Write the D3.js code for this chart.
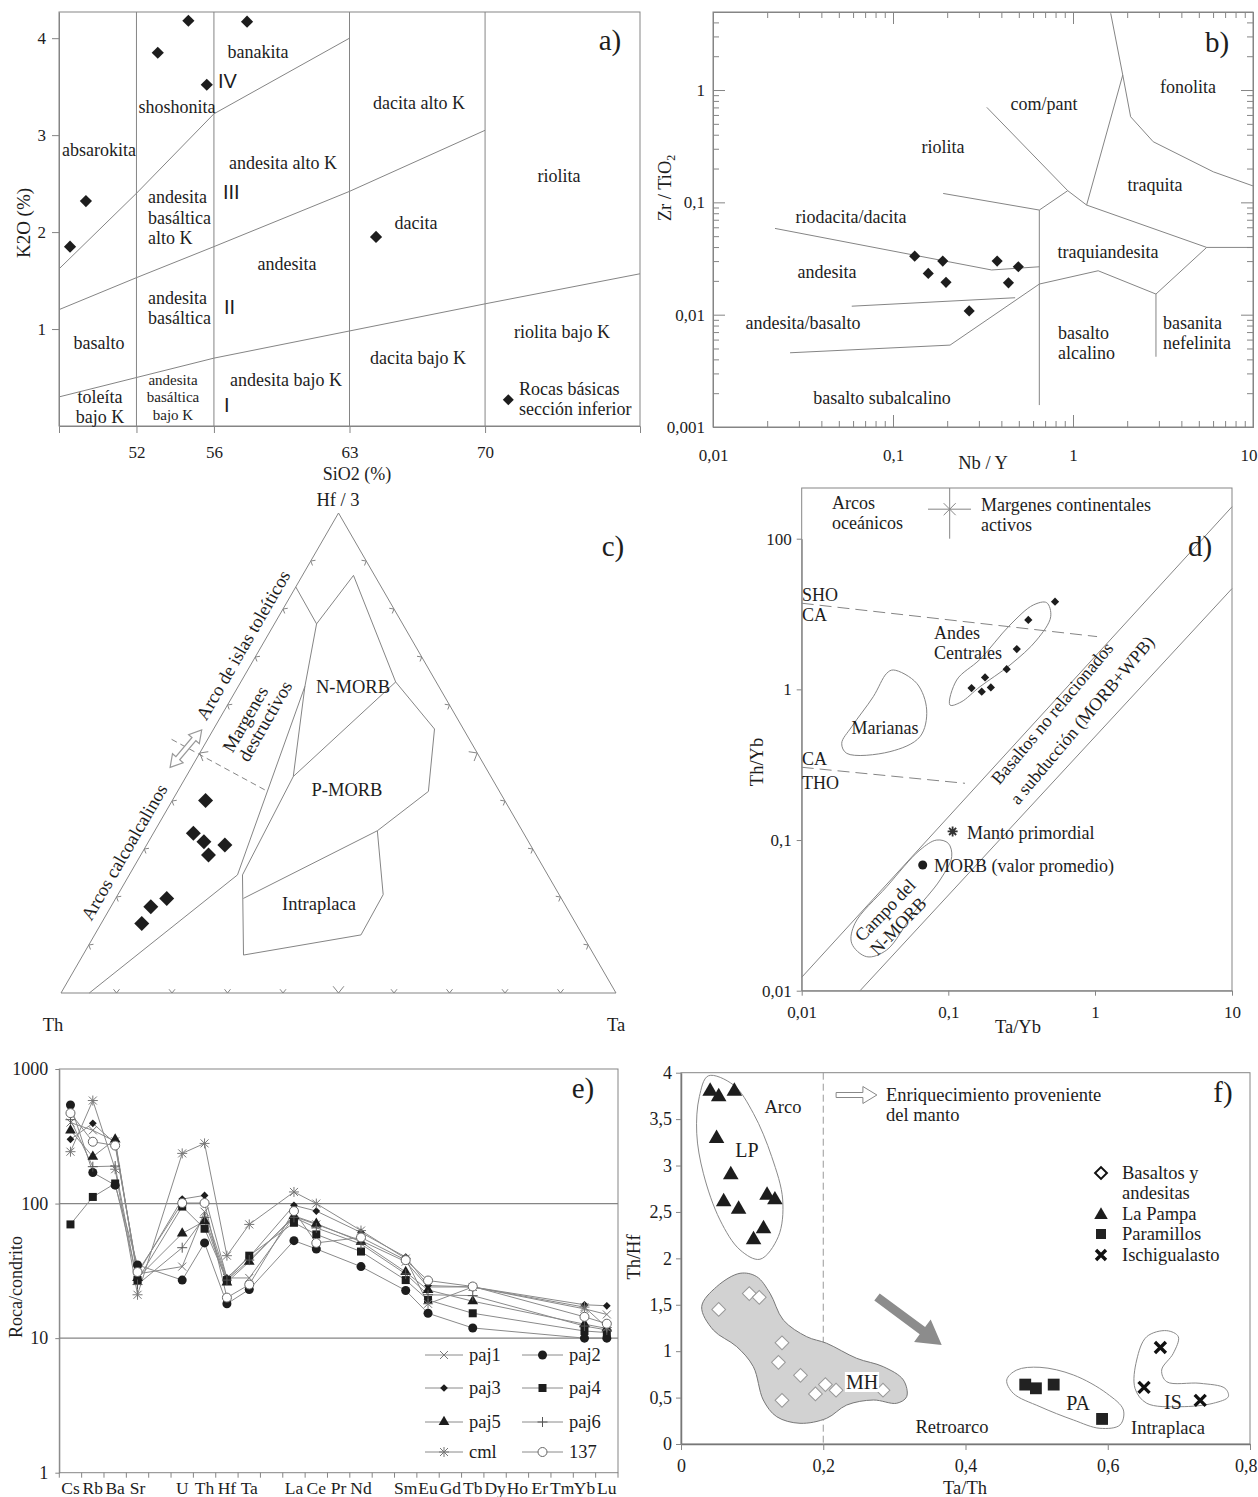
<!DOCTYPE html>
<html>
<head>
<meta charset="utf-8">
<script src="https://cdn.jsdelivr.net/npm/d3@7"></script>
<style>
  body { margin: 0; background: #fff; }
  svg { display: block; font-family: "Liberation Serif", "Times New Roman", serif; }
</style>
</head>
<body>
<svg id="fig" width="1258" height="1497"></svg>
<script>
// ---------------- data ----------------
// a) K2O vs SiO2
const aSiO2 = [48.57, 49.39, 53.10, 54.68, 55.63, 57.71, 64.37];
const aK2O = [1.85, 2.32, 3.85, 4.18, 3.52, 4.17, 1.95];
const aDividers = [52, 56, 63, 70];
const aTicksY = [1, 2, 3, 4];
const aShoshonite = [[48, 1.62], [52, 2.4], [56, 3.22], [63, 4.0]];
const aHighK = [[48, 1.2], [52, 1.53], [56, 1.85], [63, 2.42], [70, 3.05]];
const aLowK = [[48, 0.3], [52, 0.5], [56, 0.7], [63, 0.98], [70, 1.26], [78, 1.57]];

// b) Zr/TiO2 vs Nb/Y
const bNbY = [0.132, 0.157, 0.189, 0.197, 0.379, 0.497, 0.438, 0.265];
const bZrTi = [0.0332, 0.0233, 0.030, 0.0194, 0.030, 0.0267, 0.0192, 0.0108];
const bTicksX = [0.01, 0.1, 1, 10];
const bTickLabelsX = ["0,01", "0,1", "1", "10"];
const bTicksY = [0.001, 0.01, 0.1, 1];
const bTickLabelsY = ["0,001", "0,01", "0,1", "1"];
const bFields = [
  [[0.0221, 0.0586], [0.353, 0.0250], [0.650, 0.0267]],
  [[0.059, 0.0119], [0.477, 0.01415]],
  [[0.0268, 0.00458], [0.2075, 0.00536], [0.650, 0.01873]],
  [[0.650, 0.0854], [0.650, 0.001567]],
  [[0.190, 0.120], [0.650, 0.0854], [0.935, 0.127], [1.19, 0.0946]],
  [[0.332, 0.701], [0.935, 0.127]],
  [[1.19, 0.0946], [1.89, 1.36]],
  [[1.62, 4.82], [1.89, 1.36], [2.09, 0.578], [2.79, 0.3465], [6.02, 0.187], [10, 0.14]],
  [[1.19, 0.0946], [5.53, 0.0397], [10, 0.0397]],
  [[5.53, 0.0397], [2.89, 0.01526], [2.89, 0.00422]],
  [[0.650, 0.01873], [1.38, 0.0246], [2.89, 0.01526]]
];

// c) Th - Hf/3 - Ta (percent)
const cTh = [53.9, 59.5, 58.5, 55.0, 59.1, 71.1, 74.9, 78.2];
const cHf = [40.1, 33.3, 31.5, 30.8, 28.8, 19.7, 18.0, 14.5];
const cTa = [6.0, 7.2, 10.0, 14.1, 12.2, 9.2, 7.2, 7.3];
const cFields = [
  [[94.9, 0, 5.1], [55.9, 24.6, 19.5], [24.1, 63.9, 12.0], [15.5, 76.9, 7.6], [15.4, 84.6, 0]],
  [[55.0, 24.6, 20.4], [35.6, 45.1, 19.3], [24.1, 63.9, 12.0]],
  [[15.5, 76.9, 7.6], [3.8, 87.0, 9.2], [7.3, 64.8, 27.9], [5.2, 55.0, 39.8], [12.8, 42.0, 45.2], [26.1, 33.8, 40.1]],
  [[35.6, 45.1, 19.3], [7.3, 64.8, 27.9]],
  [[57.3, 19.7, 23.0], [26.1, 33.8, 40.1], [31.7, 20.5, 47.8], [39.9, 12.1, 48.0], [63.1, 7.9, 28.9], [55.0, 24.6, 20.4]]
];
const cDashed = [[53.65, 52.85, -6.5], [42.1, 42.3, 15.6]];
const cArrow = [[56.85, 47.0, -3.85], [47.25, 54.8, -2.05]];

// d) Th/Yb vs Ta/Yb
const dTaYb = [0.534, 0.351, 0.293, 0.250, 0.178, 0.144, 0.169, 0.195];
const dThYb = [3.82, 2.89, 1.85, 1.36, 1.20, 1.02, 0.965, 1.03];
const dTicks = [0.01, 0.1, 1, 10];
const dTickLabelsX = ["0,01", "0,1", "1", "10"];
const dTickLabelsY = ["0,01", "0,1", "1", "100"];
const dPrimordial = [0.107, 0.114];
const dMORB = [0.0669, 0.0683];
const dSHO = [[0.01, 3.73], [1.035, 2.24]];
const dTHO = [[0.01, 0.304], [0.13, 0.238]];
const dArrayUpper = [[0.01, 0.01227], [10, 16.3]];
const dArrayLower = [[0.025, 0.01], [10, 4.665]];
const dAndes = [[0.1027, 0.787], [0.1141, 1.154], [0.1645, 1.583], [0.2634, 2.674], [0.3796, 3.63], [0.4686, 3.76],
  [0.4989, 3.036], [0.4005, 2.126], [0.2634, 1.451], [0.1645, 1.042], [0.1221, 0.824]];
const dMarianas = [[0.0422, 1.345], [0.0609, 1.097], [0.0712, 0.730], [0.0641, 0.485], [0.040, 0.386], [0.0203, 0.376],
  [0.01875, 0.4385], [0.02193, 0.565], [0.03078, 0.894], [0.038, 1.278]];
const dNMORB = [[0.0834, 0.100], [0.100, 0.0951], [0.1055, 0.0775], [0.0878, 0.0543], [0.0577, 0.0327], [0.038, 0.01863],
  [0.02777, 0.01681], [0.02193, 0.02063], [0.0231, 0.02802], [0.038, 0.049], [0.0641, 0.0859]];

// e) spider diagram (roca/condrito)
const eSlots = ["Cs", "Rb", "Ba", "Sr", "", "U", "Th", "Hf", "Ta", "", "La", "Ce", "Pr", "Nd", "",
  "Sm", "Eu", "Gd", "Tb", "Dy", "Ho", "Er", "Tm", "Yb", "Lu"];
const eElements = ["Cs", "Rb", "Ba", "Sr", "U", "Th", "Hf", "Ta", "La", "Ce", "Nd", "Sm", "Eu", "Tb", "Yb", "Lu"];
const eTicksY = [1, 10, 100, 1000];
const paj1 = [400, 350, 290, 30, 34, 87, 28, 28, 80, 70, 53, 37, 24, 24, 16.5, 15];
const paj2 = [540, 170, 137, 35, 27, 51, 18, 23, 53, 46, 34, 22.6, 15.3, 11.9, 10, 10];
const paj3 = [300, 395, 280, 30, 108, 115, 28, 40, 97, 88, 61, 40, 24.6, 24, 17.7, 17.4];
const paj4 = [70, 112, 141, 27, 95, 65, 27, 41, 72, 59, 44, 27, 19.2, 15.3, 11.3, 11];
const paj5 = [350, 223, 300, 28, 60, 74, 26, 37, 81, 71, 52, 31, 22.8, 18.8, 12.7, 11.8];
const paj6 = [420, 188, 190, 25, 47, 79, 27, 38, 79, 66, 50, 30, 21, 20.7, 12.3, 11.5];
const cml = [243, 583, 180, 21, 236, 280, 41, 70, 122, 100, 63, 39, 18, 24, 17, 12];
const s137 = [470, 288, 270, 31, 101, 101, 20, 25, 88, 51, 56, 38, 26.8, 24.2, 14.4, 12.8];
const eSeriesNames = ["paj1", "paj2", "paj3", "paj4", "paj5", "paj6", "cml", "137"];

// f) Th/Hf vs Ta/Th
const fLP_TaTh = [0.041, 0.053, 0.075, 0.050, 0.070, 0.060, 0.081, 0.121, 0.132, 0.116, 0.102];
const fLP_ThHf = [3.80, 3.74, 3.80, 3.29, 2.90, 2.61, 2.53, 2.68, 2.63, 2.32, 2.20];
const fMH_TaTh = [0.053, 0.096, 0.110, 0.142, 0.137, 0.168, 0.142, 0.189, 0.203, 0.218, 0.284];
const fMH_ThHf = [1.45, 1.62, 1.58, 1.09, 0.88, 0.74, 0.47, 0.54, 0.64, 0.58, 0.58];
const fPA_TaTh = [0.484, 0.499, 0.524, 0.592];
const fPA_ThHf = [0.64, 0.60, 0.64, 0.27];
const fIS_TaTh = [0.674, 0.651, 0.730];
const fIS_ThHf = [1.04, 0.61, 0.47];
const fTicksX = [0, 0.2, 0.4, 0.6, 0.8];
const fTicksY = [0, 0.5, 1, 1.5, 2, 2.5, 3, 3.5, 4];
const fLPfield = [[0.0384, 3.966], [0.0736, 3.869], [0.1017, 3.563], [0.1275, 3.096], [0.143, 2.629], [0.1368, 2.234],
  [0.111, 1.990], [0.083, 2.091], [0.0548, 2.414], [0.0314, 2.917], [0.0221, 3.348], [0.0258, 3.742]];
const fMHfield = [[0.0291, 1.480], [0.0502, 1.695], [0.083, 1.839], [0.1064, 1.803], [0.1251, 1.624], [0.1438, 1.336],
  [0.1767, 1.156], [0.2048, 1.085], [0.247, 0.923], [0.2844, 0.833], [0.3126, 0.690], [0.3173, 0.510], [0.3033, 0.439],
  [0.2704, 0.474], [0.233, 0.420], [0.2048, 0.277], [0.1673, 0.223], [0.1346, 0.294], [0.1157, 0.474], [0.1017, 0.833],
  [0.0783, 1.049], [0.0454, 1.228]];
const fPAfield = [[0.458, 0.690], [0.472, 0.797], [0.5047, 0.826], [0.5516, 0.744], [0.5985, 0.546], [0.622, 0.366],
  [0.6172, 0.205], [0.589, 0.169], [0.5516, 0.259], [0.5047, 0.402], [0.4672, 0.546]];
const fISfield = [[0.6548, 1.156], [0.6829, 1.221], [0.6992, 1.156], [0.6922, 0.977], [0.6758, 0.797], [0.6829, 0.671],
  [0.7297, 0.654], [0.7649, 0.600], [0.7695, 0.510], [0.7484, 0.439], [0.7016, 0.402], [0.6548, 0.439], [0.6383, 0.600],
  [0.6407, 0.905]];
const fTrendArrow = [[0.2756, 1.584], [0.3665, 1.067]];
const fEnrichArrow = [[0.218, 3.76], [0.2754, 3.76]];

// ---------------- helpers ----------------
const GRAY = "#858585";
const INK = "#1d1d1d";
const SANS = '"Liberation Sans", Arial, sans-serif';
const svg = d3.select("#fig");
svg.append("rect").attr("width", 1258).attr("height", 1497).attr("fill", "#fff");

function txt(g, s, x, y, o = {}) {
  const t = g.append("text")
    .attr("x", x).attr("y", y).attr("dy", "0.35em")
    .attr("text-anchor", o.anchor || "middle")
    .attr("font-size", o.size || 16)
    .attr("fill", INK)
    .text(s);
  if (o.font) t.attr("font-family", o.font);
  if (o.rot) t.attr("transform", "rotate(" + o.rot + "," + x + "," + y + ")");
  return t;
}
function labels(g, list, size) {
  list.forEach(l => txt(g, l[0], l[1], l[2], Object.assign({ size: size }, l[3] || {})));
}
function diamond(g, x, y, area, fill, stroke) {
  return g.append("path")
    .attr("d", d3.symbol(d3.symbolSquare, area)())
    .attr("transform", "translate(" + x + "," + y + ") rotate(45)")
    .attr("fill", fill || INK)
    .attr("stroke", stroke || "none");
}
function styleAxis(sel, fs) {
  sel.attr("font-family", null).attr("font-size", fs);
  sel.selectAll("path, line").attr("stroke", GRAY);
  sel.selectAll("text").attr("fill", INK);
}
function frame(g, x0, y0, x1, y1) {
  g.append("rect").attr("x", x0).attr("y", y0).attr("width", x1 - x0).attr("height", y1 - y0)
    .attr("fill", "none").attr("stroke", GRAY);
}
function arrowShape(p0, p1, shaft, headLen, headHalf, both) {
  const dx = p1[0] - p0[0], dy = p1[1] - p0[1], L = Math.hypot(dx, dy);
  const u = [dx / L, dy / L], n = [-u[1], u[0]];
  const at = (p, a, b) => [p[0] + u[0] * a + n[0] * b, p[1] + u[1] * a + n[1] * b];
  const pts = [];
  if (both) pts.push(p0, at(p0, headLen, headHalf), at(p0, headLen, shaft));
  else pts.push(at(p0, 0, shaft));
  pts.push(at(p1, -headLen, shaft), at(p1, -headLen, headHalf), p1, at(p1, -headLen, -headHalf), at(p1, -headLen, -shaft));
  if (both) pts.push(at(p0, headLen, -shaft), at(p0, headLen, -headHalf));
  else pts.push(at(p0, 0, -shaft));
  return "M" + pts.map(p => p[0].toFixed(1) + "," + p[1].toFixed(1)).join("L") + "Z";
}

// ---------------- a) ----------------
const ga = svg.append("g");
const ax = d3.scaleLinear().domain([48, 78]).range([59, 640]);
const ay = d3.scaleLinear().domain([0, 4.27]).range([426, 12]);
frame(ga, ax(48), ay(4.27), ax(78), ay(0));
aDividers.forEach(v => ga.append("line")
  .attr("x1", ax(v)).attr("x2", ax(v)).attr("y1", ay(0)).attr("y2", ay(4.27)).attr("stroke", GRAY));
const aLine = d3.line().x(d => ax(d[0])).y(d => ay(d[1]));
[aShoshonite, aHighK, aLowK].forEach(b => ga.append("path").attr("d", aLine(b))
  .attr("fill", "none").attr("stroke", GRAY));
ga.append("g").attr("transform", "translate(" + ax(48) + ",0)")
  .call(d3.axisLeft(ay).tickValues(aTicksY).tickFormat(d3.format("d")).tickSize(7).tickSizeOuter(0).tickPadding(6))
  .call(styleAxis, 17);
ga.append("g").attr("transform", "translate(0," + ay(0) + ")")
  .call(d3.axisBottom(ax).tickValues(aDividers).tickSize(7).tickSizeOuter(7).tickPadding(13))
  .call(styleAxis, 17);
aSiO2.forEach((v, i) => diamond(ga, ax(v), ay(aK2O[i]), 74));
diamond(ga, ax(71.2), ay(0.27), 60);
labels(ga, [
  ["banakita", 258, 52], ["shoshonita", 177, 107], ["absarokita", 99, 150],
  ["andesita alto K", 283, 163],
  ["andesita", 148, 197, { anchor: "start" }], ["basáltica", 148, 218, { anchor: "start" }], ["alto K", 148, 238, { anchor: "start" }],
  ["andesita", 287, 264],
  ["andesita", 148, 298, { anchor: "start" }], ["basáltica", 148, 318, { anchor: "start" }],
  ["basalto", 99, 343], ["toleíta", 100, 397], ["bajo K", 100, 417],
  ["andesita bajo K", 230, 380, { anchor: "start" }],
  ["dacita alto K", 419, 103], ["riolita", 559, 176], ["dacita", 416, 223],
  ["dacita bajo K", 418, 358], ["riolita bajo K", 562, 332],
  ["Rocas básicas", 519, 389, { anchor: "start" }], ["sección inferior", 519, 409, { anchor: "start" }]
], 18);
labels(ga, [["andesita", 173, 380], ["basáltica", 173, 397], ["bajo K", 173, 415]], 15);
[["IV", 218, 81], ["III", 223, 192], ["II", 224, 307], ["I", 224, 405]]
  .forEach(l => txt(ga, l[0], l[1], l[2], { anchor: "start", size: 20, font: SANS }));
txt(ga, "a)", 610, 40, { size: 29 });
txt(ga, "K2O (%)", 23, 223, { size: 19, rot: -90 });
txt(ga, "SiO2 (%)", 357, 474, { size: 18 });

// ---------------- b) ----------------
const gb = svg.append("g");
const bx = d3.scaleLog().domain([0.01, 10]).range([713, 1253]);
const by = d3.scaleLog().domain([0.001, 4.95]).range([427, 12]);
frame(gb, 713, 12, 1253, 427);
const bMinorX = bx.ticks().filter(v => !bTicksX.some(t => Math.abs(t - v) < 1e-12));
const bMinorY = by.ticks().filter(v => !bTicksY.some(t => Math.abs(t - v) < 1e-12));
[[d3.axisBottom, 427], [d3.axisTop, 12]].forEach(([fn, y], k) => {
  gb.append("g").attr("transform", "translate(0," + y + ")")
    .call(fn(bx).tickValues(bMinorX).tickSize(-6).tickSizeOuter(0).tickFormat("")).call(styleAxis, 17);
  gb.append("g").attr("transform", "translate(0," + y + ")")
    .call(fn(bx).tickValues(bTicksX).tickSize(-12).tickSizeOuter(0).tickPadding(22)
      .tickFormat(k === 0 ? (d, i) => bTickLabelsX[i] : "")).call(styleAxis, 17);
});
gb.selectAll("text").filter(function () { return this.textContent === "10"; })
  .attr("text-anchor", "end").attr("x", 4);
[[d3.axisLeft, 713], [d3.axisRight, 1253]].forEach(([fn, x], k) => {
  gb.append("g").attr("transform", "translate(" + x + ",0)")
    .call(fn(by).tickValues(bMinorY).tickSize(-6).tickSizeOuter(0).tickFormat("")).call(styleAxis, 17);
  gb.append("g").attr("transform", "translate(" + x + ",0)")
    .call(fn(by).tickValues(bTicksY).tickSize(-12).tickSizeOuter(0).tickPadding(8)
      .tickFormat(k === 0 ? (d, i) => bTickLabelsY[i] : "")).call(styleAxis, 17);
});
const bLine = d3.line().x(d => bx(d[0])).y(d => by(d[1]));
bFields.forEach(f => gb.append("path").attr("d", bLine(f)).attr("fill", "none").attr("stroke", GRAY));
bNbY.forEach((v, i) => diamond(gb, bx(v), by(bZrTi[i]), 62));
labels(gb, [
  ["riolita", 943, 147], ["com/pant", 1044, 104], ["fonolita", 1188, 87], ["traquita", 1155, 185],
  ["riodacita/dacita", 851, 217], ["andesita", 827, 272], ["andesita/basalto", 803, 323],
  ["traquiandesita", 1108, 252],
  ["basalto", 1058, 333, { anchor: "start" }], ["alcalino", 1058, 353, { anchor: "start" }],
  ["basanita", 1163, 323, { anchor: "start" }], ["nefelinita", 1163, 343, { anchor: "start" }],
  ["basalto subalcalino", 882, 398]
], 18);
txt(gb, "b)", 1217, 42, { size: 29 });
txt(gb, "Nb / Y", 983, 463, { size: 18.5 });
const zt = txt(gb, "Zr / TiO", 665, 188, { size: 18.5, rot: -90 });
zt.append("tspan").attr("font-size", 12).attr("dy", "0.3em").text("2");

// ---------------- c) ----------------
const gc = svg.append("g");
const cxs = d3.scaleLinear().domain([0, 1]).range([61, 616]);
const cys = d3.scaleLinear().domain([0, 1]).range([993, 513]);
const tern = d => {
  const s = d[0] + d[1] + d[2], hf = d[1] / s, ta = d[2] / s;
  return [cxs(ta + hf / 2), cys(hf)];
};
const triV = [tern([100, 0, 0]), tern([0, 100, 0]), tern([0, 0, 100])];
gc.append("path").attr("d", "M" + triV.join("L") + "Z").attr("fill", "none").attr("stroke", GRAY);
const cen = [d3.mean(triV, p => p[0]), d3.mean(triV, p => p[1])];
[[0, 1], [1, 2], [2, 0]].forEach(([a, b]) => {
  const A = triV[a], B = triV[b];
  const L = Math.hypot(B[0] - A[0], B[1] - A[1]);
  const u = [(B[0] - A[0]) / L, (B[1] - A[1]) / L];
  d3.range(1, 10).forEach(k => {
    const P = [A[0] + (B[0] - A[0]) * k / 10, A[1] + (B[1] - A[1]) * k / 10];
    let n = [-u[1], u[0]];
    if (n[0] * (cen[0] - P[0]) + n[1] * (cen[1] - P[1]) < 0) n = [-n[0], -n[1]];
    const s = k === 5 ? 9 : 5;
    const p1 = [P[0] + s * (0.75 * n[0] + 0.6 * u[0]), P[1] + s * (0.75 * n[1] + 0.6 * u[1])];
    const p2 = [P[0] + s * (0.75 * n[0] - 0.6 * u[0]), P[1] + s * (0.75 * n[1] - 0.6 * u[1])];
    gc.append("path").attr("d", "M" + p1 + "L" + P + "L" + p2).attr("fill", "none").attr("stroke", GRAY);
  });
});
const cLine = d3.line().x(d => tern(d)[0]).y(d => tern(d)[1]);
cFields.forEach(f => gc.append("path").attr("d", cLine(f)).attr("fill", "none").attr("stroke", GRAY));
gc.append("path").attr("d", cLine(cDashed)).attr("fill", "none").attr("stroke", GRAY).attr("stroke-dasharray", "6,4");
gc.append("path").attr("d", arrowShape(tern(cArrow[0]), tern(cArrow[1]), 2.5, 12, 7, true))
  .attr("fill", "#fff").attr("stroke", "#999").attr("stroke-width", 1.2);
cTh.forEach((v, i) => { const p = tern([v, cHf[i], cTa[i]]); diamond(gc, p[0], p[1], 112); });
labels(gc, [
  ["Hf / 3", 338, 500], ["Th", 53, 1025], ["Ta", 616, 1025],
  ["N-MORB", 353, 687], ["P-MORB", 347, 790], ["Intraplaca", 319, 904]
], 18.5);
labels(gc, [
  ["Arcos calcoalcalinos", 124, 852, { rot: -60 }], ["Arco de islas toleíticos", 243, 645, { rot: -60 }],
  ["Margenes", 245, 719, { rot: -60 }], ["destructivos", 265, 721, { rot: -60 }]
], 18.5);
txt(gc, "c)", 613, 546, { size: 29 });

// ---------------- d) ----------------
const gd = svg.append("g");
const dx = d3.scaleLog().domain([0.01, 0.1, 1, 10]).range([801.7, 948.3, 1095, 1232]);
const dy = d3.scaleLog().domain([0.01, 10]).range([990.7, 538.7]);
frame(gd, 801.7, 488, 1232, 990.7);
gd.append("g").attr("transform", "translate(801.7,0)")
  .call(d3.axisLeft(dy).tickValues(dTicks).tickSize(5).tickSizeOuter(0).tickPadding(5)
    .tickFormat((d, i) => dTickLabelsY[i])).call(styleAxis, 17);
gd.append("g").attr("transform", "translate(0,990.7)")
  .call(d3.axisBottom(dx).tickValues(dTicks).tickSize(5).tickSizeOuter(0).tickPadding(10)
    .tickFormat((d, i) => dTickLabelsX[i])).call(styleAxis, 17);
const dLine = d3.line().x(d => dx(d[0])).y(d => dy(d[1]));
const dLoop = d3.line().x(d => dx(d[0])).y(d => dy(d[1])).curve(d3.curveCatmullRomClosed.alpha(0.5));
[dArrayUpper, dArrayLower].forEach(l => gd.append("path").attr("d", dLine(l)).attr("fill", "none").attr("stroke", GRAY));
[dSHO, dTHO].forEach(l => gd.append("path").attr("d", dLine(l)).attr("fill", "none").attr("stroke", GRAY)
  .attr("stroke-dasharray", "12,6"));
[dAndes, dMarianas, dNMORB].forEach(l => gd.append("path").attr("d", dLoop(l)).attr("fill", "none").attr("stroke", GRAY));
// cross symbol (arcos oceanicos / margenes continentales)
const crossX = dx(0.1022), crossY = dy(15.7);
gd.append("line").attr("x1", crossX).attr("x2", crossX).attr("y1", 488).attr("y2", dy(10)).attr("stroke", GRAY);
gd.append("line").attr("x1", dx(0.0727)).attr("x2", dx(0.1428)).attr("y1", crossY).attr("y2", crossY).attr("stroke", GRAY);
gd.append("path").attr("d", "M" + (crossX - 6) + "," + (crossY - 6) + "L" + (crossX + 6) + "," + (crossY + 6) +
  "M" + (crossX - 6) + "," + (crossY + 6) + "L" + (crossX + 6) + "," + (crossY - 6)).attr("stroke", GRAY);
dTaYb.forEach((v, i) => diamond(gd, dx(v), dy(dThYb[i]), 34));
{
  const px = dx(dPrimordial[0]), py = dy(dPrimordial[1]);
  const star = d3.range(4).map(k => {
    const a = k * Math.PI / 4;
    return "M" + (px - 5 * Math.cos(a)) + "," + (py - 5 * Math.sin(a)) + "L" + (px + 5 * Math.cos(a)) + "," + (py + 5 * Math.sin(a));
  }).join("");
  gd.append("path").attr("d", star).attr("stroke", "#333").attr("stroke-width", 1.8);
  gd.append("circle").attr("cx", dx(dMORB[0])).attr("cy", dy(dMORB[1])).attr("r", 4.5).attr("fill", INK);
}
labels(gd, [
  ["Arcos", 832, 503, { anchor: "start" }], ["oceánicos", 832, 523, { anchor: "start" }],
  ["Margenes continentales", 981, 505, { anchor: "start" }], ["activos", 981, 525, { anchor: "start" }],
  ["SHO", 802, 595, { anchor: "start" }], ["CA", 802, 615, { anchor: "start" }],
  ["CA", 802, 759, { anchor: "start" }], ["THO", 802, 783, { anchor: "start" }],
  ["Andes", 957, 633], ["Centrales", 968, 653], ["Marianas", 885, 728],
  ["Manto primordial", 967, 833, { anchor: "start" }], ["MORB (valor promedio)", 934, 866, { anchor: "start" }],
  ["Campo del", 885, 910, { rot: -46 }], ["N-MORB", 898, 926, { rot: -46 }],
  ["Basaltos no relacionados", 1052, 713, { rot: -50 }], ["a subducción (MORB+WPB)", 1082, 720, { rot: -50 }]
], 18);
txt(gd, "d)", 1200, 546, { size: 29 });
txt(gd, "Ta/Yb", 1018, 1027, { size: 18.5 });
txt(gd, "Th/Yb", 757, 762, { size: 18.5, rot: -90 });

// ---------------- e) ----------------
const ge = svg.append("g");
const ex = d3.scaleBand().domain(d3.range(eSlots.length)).range([59.3, 618]);
const ey = d3.scaleLog().domain([1, 1000]).range([1472.7, 1069]);
frame(ge, 59.3, ey(1000), 618, ey(1));
[10, 100].forEach(v => ge.append("line").attr("x1", 59.3).attr("x2", 618).attr("y1", ey(v)).attr("y2", ey(v))
  .attr("stroke", GRAY).attr("stroke-width", 1.2));
ge.append("g").attr("transform", "translate(59.3,0)")
  .call(d3.axisLeft(ey).tickValues(eTicksY).tickFormat(d3.format("d")).tickSize(4).tickSizeOuter(0).tickPadding(7))
  .call(styleAxis, 18);
ge.selectAll(".etick").data(d3.range(eSlots.length + 1)).join("line").attr("class", "etick")
  .attr("x1", i => 59.3 + i * ex.step()).attr("x2", i => 59.3 + i * ex.step())
  .attr("y1", ey(1)).attr("y2", ey(1) + 5).attr("stroke", GRAY);
eSlots.forEach((s, i) => { if (s) txt(ge, s, ex(i) + ex.bandwidth() / 2, 1488, { size: 17.5 }); });
const eX = name => ex(eSlots.indexOf(name)) + ex.bandwidth() / 2;
const eSeries = [paj1, paj2, paj3, paj4, paj5, paj6, cml, s137];
const eMarks = ["x", "circle", "diamond", "square", "triangle", "plus", "star", "open"];
const eLine = d3.line().x((d, i) => eX(eElements[i])).y(d => ey(d));
eSeries.forEach(s => ge.append("path").attr("d", eLine(s)).attr("fill", "none").attr("stroke", "#8a8a8a").attr("stroke-width", 1));
function eMarker(g, type, x, y) {
  if (type === "x") {
    g.append("path").attr("d", `M${x - 4},${y - 4}L${x + 4},${y + 4}M${x - 4},${y + 4}L${x + 4},${y - 4}`).attr("stroke", "#777");
  } else if (type === "plus") {
    g.append("path").attr("d", `M${x - 5},${y}L${x + 5},${y}M${x},${y - 5}L${x},${y + 5}`).attr("stroke", "#555");
  } else if (type === "star") {
    g.append("path").attr("d", `M${x - 5},${y}L${x + 5},${y}M${x},${y - 5}L${x},${y + 5}M${x - 4},${y - 4}L${x + 4},${y + 4}M${x - 4},${y + 4}L${x + 4},${y - 4}`)
      .attr("stroke", "#777");
  } else if (type === "circle") {
    g.append("circle").attr("cx", x).attr("cy", y).attr("r", 4.5).attr("fill", INK);
  } else if (type === "open") {
    g.append("circle").attr("cx", x).attr("cy", y).attr("r", 4.5).attr("fill", "#fff").attr("stroke", "#666");
  } else if (type === "diamond") {
    diamond(g, x, y, 30);
  } else if (type === "square") {
    g.append("path").attr("d", d3.symbol(d3.symbolSquare, 64)()).attr("transform", `translate(${x},${y})`).attr("fill", INK);
  } else if (type === "triangle") {
    g.append("path").attr("d", d3.symbol(d3.symbolTriangle, 50)()).attr("transform", `translate(${x},${y})`).attr("fill", INK);
  }
}
eSeries.forEach((s, k) => s.forEach((v, i) => eMarker(ge, eMarks[k], eX(eElements[i]), ey(v))));
eSeriesNames.forEach((name, k) => {
  const col = k % 2, row = Math.floor(k / 2);
  const y = [1355, 1388, 1422, 1452][row];
  const x0 = col === 0 ? 425 : 522, x1 = col === 0 ? 463 : 563;
  ge.append("line").attr("x1", x0).attr("x2", x1).attr("y1", y).attr("y2", y).attr("stroke", "#8a8a8a");
  eMarker(ge, eMarks[k], (x0 + x1) / 2, y);
  txt(ge, name, x1 + 6, y, { anchor: "start", size: 18.5 });
});
txt(ge, "e)", 583, 1088, { size: 29 });
txt(ge, "Roca/condrito", 16, 1287, { size: 18, rot: -90 });

// ---------------- f) ----------------
const gf = svg.append("g");
const fx = d3.scaleLinear().domain([0, 0.8]).range([681, 1250]);
const fy = d3.scaleLinear().domain([0, 4]).range([1444, 1072.7]);
frame(gf, fx(0), fy(4), fx(0.8), fy(0));
const comma = d => String(d).replace(".", ",");
gf.append("g").attr("transform", "translate(" + fx(0) + ",0)")
  .call(d3.axisLeft(fy).tickValues(fTicksY).tickFormat(comma).tickSize(5).tickSizeOuter(0).tickPadding(4))
  .call(styleAxis, 18);
gf.append("g").attr("transform", "translate(0," + fy(0) + ")")
  .call(d3.axisBottom(fx).tickValues(fTicksX).tickFormat(comma).tickSize(6).tickSizeOuter(0).tickPadding(9))
  .call(styleAxis, 18);
gf.selectAll("text").filter(function () { return this.textContent === "0,8"; })
  .attr("text-anchor", "end").attr("x", 7);
gf.selectAll(".domain").attr("stroke", "#777").attr("stroke-width", 1.5);
gf.append("line").attr("x1", fx(0.2)).attr("x2", fx(0.2)).attr("y1", fy(4)).attr("y2", fy(0))
  .attr("stroke", "#999").attr("stroke-dasharray", "7,4");
const fLoop = d3.line().x(d => fx(d[0])).y(d => fy(d[1])).curve(d3.curveCatmullRomClosed.alpha(0.5));
gf.append("path").attr("d", fLoop(fMHfield)).attr("fill", "#d2d2d2").attr("stroke", "#777");
[fLPfield, fPAfield, fISfield].forEach(l => gf.append("path").attr("d", fLoop(l)).attr("fill", "none").attr("stroke", "#8a8a8a"));
gf.append("path").attr("d", arrowShape([fx(fTrendArrow[0][0]), fy(fTrendArrow[0][1])], [fx(fTrendArrow[1][0]), fy(fTrendArrow[1][1])], 4.5, 24, 14, false))
  .attr("fill", "#8c8c8c");
gf.append("path").attr("d", arrowShape([fx(fEnrichArrow[0][0]), fy(fEnrichArrow[0][1])], [fx(fEnrichArrow[1][0]), fy(fEnrichArrow[1][1])], 2.5, 14, 8.5, false))
  .attr("fill", "#fff").attr("stroke", "#888");
function fCross(g, x, y, s) {
  g.append("path").attr("d", `M${x - s},${y - s}L${x + s},${y + s}M${x - s},${y + s}L${x + s},${y - s}`)
    .attr("stroke", "#111").attr("stroke-width", 3.4);
}
fMH_TaTh.forEach((v, i) => diamond(gf, fx(v), fy(fMH_ThHf[i]), 95, "#fff", "#999"));
fLP_TaTh.forEach((v, i) => gf.append("path").attr("d", d3.symbol(d3.symbolTriangle, 105)())
  .attr("transform", `translate(${fx(v)},${fy(fLP_ThHf[i])})`).attr("fill", INK));
fPA_TaTh.forEach((v, i) => gf.append("path").attr("d", d3.symbol(d3.symbolSquare, 140)())
  .attr("transform", `translate(${fx(v)},${fy(fPA_ThHf[i])})`).attr("fill", "#222"));
fIS_TaTh.forEach((v, i) => fCross(gf, fx(v), fy(fIS_ThHf[i]), 5.5));
const mh = txt(gf, "MH", 862, 1382, { size: 20 });
const bb = mh.node().getBBox();
gf.insert("rect", () => mh.node()).attr("x", bb.x - 1).attr("y", bb.y + 1).attr("width", bb.width + 2).attr("height", bb.height - 2).attr("fill", "#fff");
labels(gf, [
  ["Arco", 783, 1107], ["Retroarco", 952, 1427], ["Intraplaca", 1168, 1428],
  ["Enriquecimiento proveniente", 886, 1095, { anchor: "start" }], ["del manto", 886, 1115, { anchor: "start" }],
  ["Basaltos y", 1122, 1173, { anchor: "start" }], ["andesitas", 1122, 1193, { anchor: "start" }],
  ["La Pampa", 1122, 1214, { anchor: "start" }], ["Paramillos", 1122, 1234, { anchor: "start" }],
  ["Ischigualasto", 1122, 1255, { anchor: "start" }]
], 18.5);
labels(gf, [["LP", 747, 1150], ["PA", 1078, 1403], ["IS", 1173, 1402]], 20);
diamond(gf, 1101, 1173, 70, "#fff", "#111").attr("stroke-width", 2);
gf.append("path").attr("d", d3.symbol(d3.symbolTriangle, 80)()).attr("transform", "translate(1101,1215)").attr("fill", INK);
gf.append("path").attr("d", d3.symbol(d3.symbolSquare, 100)()).attr("transform", "translate(1101,1234)").attr("fill", "#222");
fCross(gf, 1101, 1255, 5);
txt(gf, "f)", 1223, 1092, { size: 29 });
txt(gf, "Ta/Th", 965, 1488, { size: 18.5 });
txt(gf, "Th/Hf", 634, 1257, { size: 18.5, rot: -90 });
</script>
</body>
</html>
